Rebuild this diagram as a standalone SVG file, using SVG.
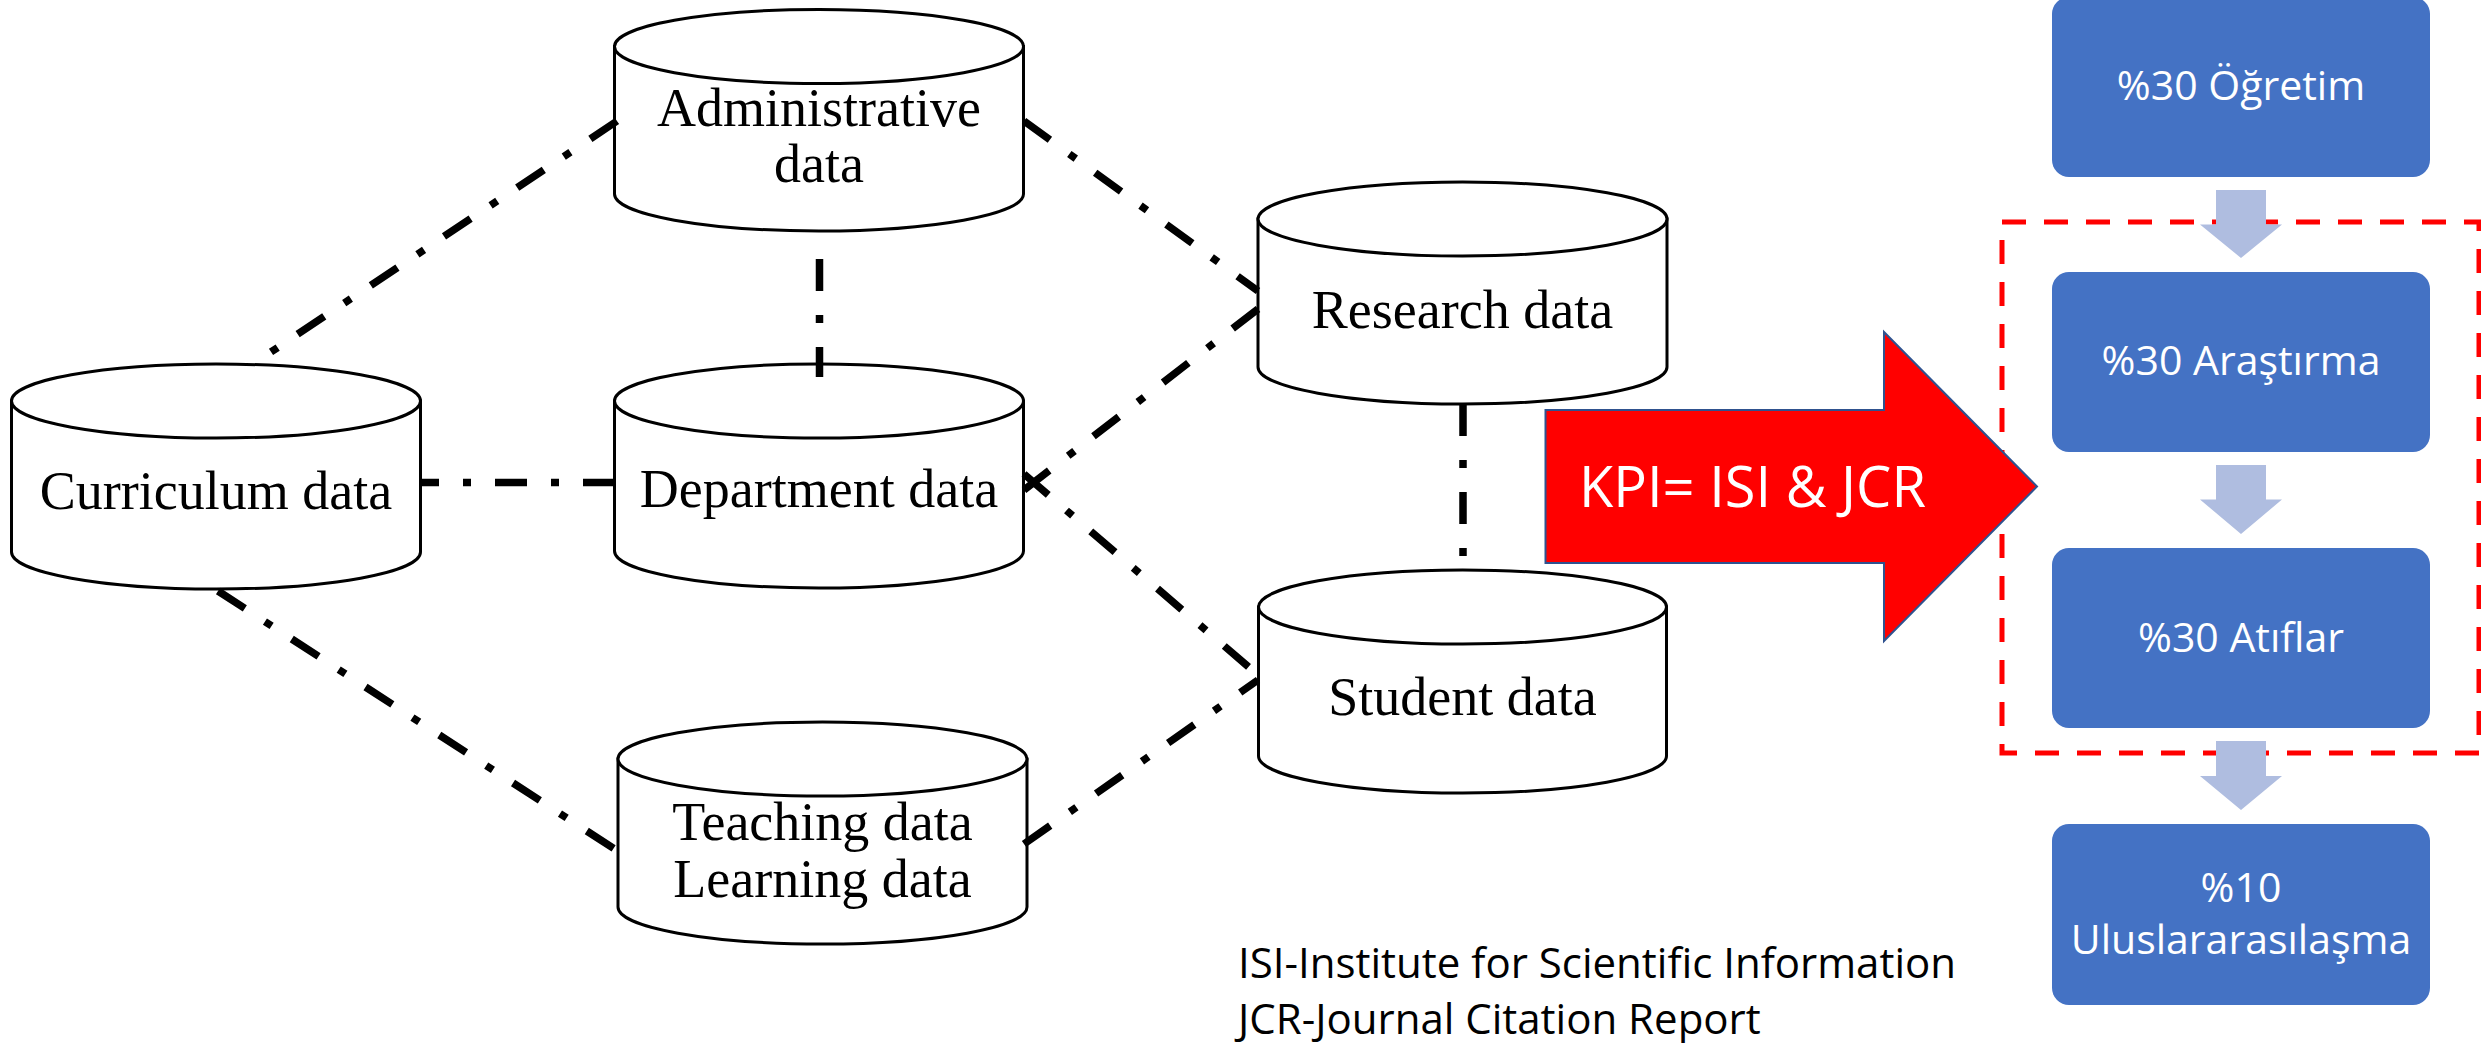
<svg xmlns="http://www.w3.org/2000/svg" width="2481" height="1043" viewBox="0 0 2481 1043">
<style>
.cyl{fill:#fff;stroke:#000;stroke-width:3}
.lbl{font-family:"Liberation Serif","Times New Roman",serif;font-size:54px;fill:#000;text-anchor:middle}
.con{stroke:#000;stroke-width:7.5;stroke-dasharray:32 24 8 24;stroke-linecap:butt;fill:none}
.box{fill:#4472C4}
.btx{font-family:"Open Sans","Noto Sans",sans-serif;font-size:41px;fill:#fff;text-anchor:middle}
.darr{fill:#AFBDE0}
.note{font-family:"Open Sans","Noto Sans",sans-serif;font-size:42px;fill:#000}
</style>
<rect width="2481" height="1043" fill="#fff"/>

<g id="node-administrative">
<path class="cyl" d="M614.5,46.5 V194 A204.5,37 0 0 0 1023.5,194 V46.5 Z"/>
<ellipse class="cyl" cx="819" cy="46.5" rx="204.5" ry="37"/>
<text class="lbl" x="819" y="126">Administrative</text>
<text class="lbl" x="819" y="182">data</text>
</g>
<g id="node-curriculum">
<path class="cyl" d="M11.5,401 V552 A204.5,37 0 0 0 420.5,552 V401 Z"/>
<ellipse class="cyl" cx="216" cy="401" rx="204.5" ry="37"/>
<text class="lbl" x="216" y="509">Curriculum data</text>
</g>
<g id="node-department">
<path class="cyl" d="M614.5,401 V551 A204.5,37 0 0 0 1023.5,551 V401 Z"/>
<ellipse class="cyl" cx="819" cy="401" rx="204.5" ry="37"/>
<text class="lbl" x="819" y="507">Department data</text>
</g>
<g id="node-teaching">
<path class="cyl" d="M618,759 V907 A204.5,37 0 0 0 1027,907 V759 Z"/>
<ellipse class="cyl" cx="822.5" cy="759" rx="204.5" ry="37"/>
<text class="lbl" x="822.5" y="840">Teaching data</text>
<text class="lbl" x="822.5" y="897">Learning data</text>
</g>
<g id="node-research">
<path class="cyl" d="M1258,219 V367 A204.5,37 0 0 0 1667,367 V219 Z"/>
<ellipse class="cyl" cx="1462.5" cy="219" rx="204.5" ry="37"/>
<text class="lbl" x="1462.5" y="328">Research data</text>
</g>
<g id="node-student">
<path class="cyl" d="M1258.5,607 V756 A204,37 0 0 0 1666.5,756 V607 Z"/>
<ellipse class="cyl" cx="1462.5" cy="607" rx="204" ry="37"/>
<text class="lbl" x="1462.5" y="715">Student data</text>
</g>

<g id="connectors">
<path class="con" d="M617,121 L271,352"/>
<path class="con" d="M1024,121 L1258,291"/>
<path class="con" d="M819.5,259 L819.5,377"/>
<path class="con" d="M615,482.5 L421,482.5"/>
<path class="con" d="M1258,309 L1024,490"/>
<path class="con" d="M1024,474 L1258,675"/>
<path class="con" d="M1463,404 L1463,570"/>
<path class="con" d="M218,591 L616,850"/>
<path class="con" d="M1024,844 L1258,680"/>
</g>

<g id="group-frame">
<rect x="2002" y="222" width="477" height="531" fill="none" stroke="#FF0000" stroke-width="5" stroke-dasharray="24 18"/>
</g>

<g id="node-kpi">
<polygon points="1545.5,410 1884,410 1884,332 2037,486.5 1884,641 1884,563 1545.5,563" fill="#FF0000" stroke="#2F528F" stroke-width="2"/>
<text x="1579" y="507" font-family="'Open Sans','Noto Sans',sans-serif" font-size="56" fill="#fff">KPI= ISI &amp; JCR</text>
</g>

<g id="flow-arrows">
<polygon class="darr" points="2216,190 2266,190 2266,224.5 2282,224.5 2241,258 2200,224.5 2216,224.5"/>
<polygon class="darr" points="2216,465 2266,465 2266,499.5 2282,499.5 2241,534 2200,499.5 2216,499.5"/>
<polygon class="darr" points="2216,741 2266,741 2266,776 2282,776 2241,810 2200,776 2216,776"/>
</g>

<g id="node-ogretim">
<rect class="box" x="2052" y="-3" width="378" height="180" rx="17"/>
<text class="btx" x="2241" y="100">%30 Öğretim</text>
</g>
<g id="node-arastirma">
<rect class="box" x="2052" y="272" width="378" height="180" rx="17"/>
<text class="btx" x="2241" y="375">%30 Araştırma</text>
</g>
<g id="node-atiflar">
<rect class="box" x="2052" y="548" width="378" height="180" rx="17"/>
<text class="btx" x="2241" y="652">%30 Atıflar</text>
</g>
<g id="node-uluslar">
<rect class="box" x="2052" y="824" width="378" height="181" rx="17"/>
<text class="btx" x="2241" y="902">%10</text>
<text class="btx" x="2241" y="954">Uluslararasılaşma</text>
</g>

<g id="footnote">
<text class="note" x="1238" y="978">ISI-Institute for Scientific Information</text>
<text class="note" x="1238" y="1034">JCR-Journal Citation Report</text>
</g>
</svg>
